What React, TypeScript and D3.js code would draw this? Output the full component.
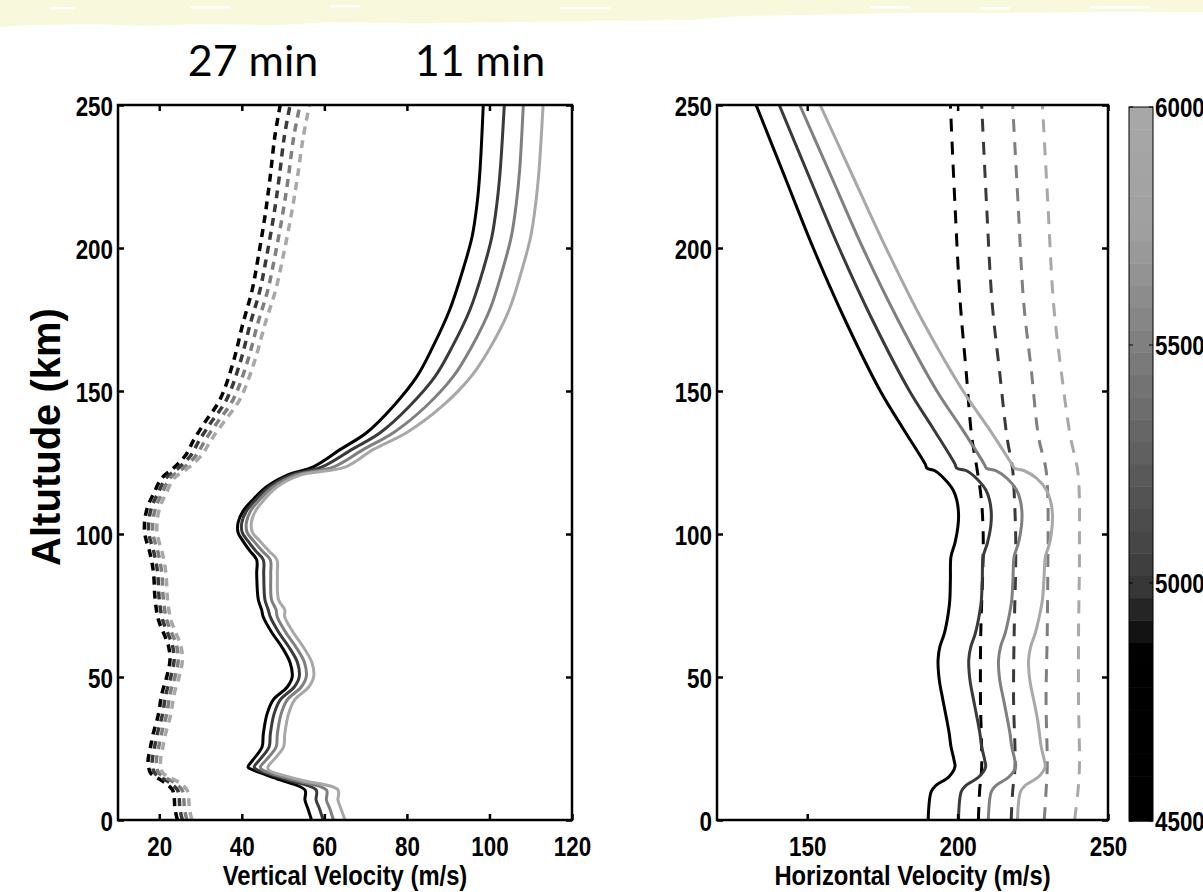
import React, { useEffect, useRef } from 'react'
import * as d3 from 'd3'

// line groups are keyed by the colorbar value
const groups = [4500, 5000, 5500, 6000]
const altTicks = [0, 50, 100, 150, 200, 250]
const vertTicks = [20, 40, 60, 80, 100, 120]
const horizTicks = [150, 200, 250]
const cbTicks = [4500, 5000, 5500, 6000]

// vertical velocity, 11 min (solid)
const altV11 = [0, 4, 7, 10.5, 14, 17.5, 18.5, 21, 25.5, 30, 37, 42, 46.5, 50, 55, 60.5, 65.5, 71, 73.5, 77, 86, 91, 94, 97.5, 100.5, 104, 108, 112, 116.5, 120.5, 123.5, 129.5, 135.5, 144.5, 155, 165.5, 178.5, 192.5, 204, 215.5, 227, 250]
const vert11_4500 = [56.9, 56.0, 55.3, 55.3, 49.3, 42.7, 41.5, 42.7, 44.9, 45.2, 46.1, 47.6, 51.0, 52.2, 51.7, 49.7, 47.3, 45.2, 44.8, 44.0, 43.6, 43.6, 42.0, 40.3, 39.1, 39.1, 40.3, 42.7, 46.0, 50.9, 57.3, 63.8, 70.3, 76.6, 82.4, 86.3, 90.4, 93.6, 95.8, 97.0, 97.7, 98.5]
const vert11_5000 = [59.7, 58.8, 58.0, 58.0, 51.0, 43.8, 43.0, 44.3, 46.6, 46.9, 47.8, 49.3, 52.7, 53.9, 53.5, 51.4, 49.0, 46.9, 46.4, 45.6, 45.3, 45.2, 43.4, 41.5, 40.1, 40.0, 41.1, 43.4, 46.7, 51.7, 59.5, 66.6, 73.6, 80.5, 86.8, 91.0, 95.3, 98.5, 100.6, 101.8, 102.6, 103.6]
const vert11_5500 = [62.2, 61.3, 60.5, 60.5, 52.6, 45.0, 44.5, 45.9, 48.3, 48.6, 49.5, 51.0, 54.4, 55.6, 55.2, 53.1, 50.7, 48.6, 48.3, 47.2, 47.0, 46.9, 45.0, 42.9, 41.3, 41.1, 42.1, 44.3, 47.6, 52.8, 62.3, 69.4, 76.8, 84.5, 91.2, 95.7, 100.1, 103.2, 105.3, 106.5, 107.3, 108.2]
const vert11_6000 = [65.0, 64.0, 63.3, 63.3, 54.3, 46.5, 46.3, 47.7, 50.1, 50.4, 51.3, 52.8, 56.2, 57.4, 57.0, 54.9, 52.5, 50.4, 50.4, 48.9, 48.6, 48.5, 46.6, 44.4, 42.6, 42.3, 43.3, 45.4, 48.6, 54.0, 65.2, 71.8, 80.0, 88.4, 95.5, 100.3, 104.8, 107.9, 110.0, 111.2, 112.0, 113.0]

// vertical velocity, 27 min (dashed)
const altV27 = [0, 4, 8, 10.5, 13, 16.4, 18.5, 21, 25, 30, 37, 44, 50, 56, 61, 65.5, 70, 77, 86.5, 93, 100, 105, 110, 114, 119.5, 123.5, 128, 132.5, 138.5, 147, 160, 173.8, 185.3, 197, 211, 224, 239, 250]
const vert27_4500 = [24.4, 23.8, 23.6, 23.2, 21.4, 17.9, 17.4, 17.3, 17.8, 18.5, 19.8, 20.6, 21.8, 22.6, 22.2, 21.0, 19.8, 19.0, 18.6, 17.8, 16.5, 16.5, 17.3, 18.6, 20.6, 23.8, 26.6, 28.2, 30.8, 34.7, 37.9, 40.3, 42.5, 44.0, 45.6, 46.8, 48.0, 49.3]
const vert27_5000 = [25.6, 25.0, 24.8, 24.4, 22.6, 18.9, 18.4, 18.3, 18.8, 19.5, 20.8, 21.6, 22.8, 23.6, 23.2, 22.0, 20.8, 20.0, 19.6, 18.8, 17.5, 17.5, 18.3, 19.6, 21.6, 25.0, 27.9, 29.6, 32.3, 36.3, 39.6, 42.1, 44.4, 46.0, 47.7, 49.0, 50.3, 51.7]
const vert27_5500 = [26.7, 26.1, 25.9, 25.5, 23.7, 19.9, 19.4, 19.3, 19.8, 20.5, 21.8, 22.6, 23.8, 24.6, 24.2, 23.0, 21.8, 21.0, 20.6, 19.8, 18.5, 18.5, 19.3, 20.6, 22.6, 26.2, 29.2, 31.0, 33.8, 37.9, 41.3, 43.9, 46.3, 48.0, 49.8, 51.2, 52.6, 54.1]
const vert27_6000 = [27.9, 27.3, 27.1, 26.7, 24.9, 20.9, 20.4, 20.3, 20.8, 21.5, 22.8, 23.6, 24.8, 25.6, 25.2, 24.0, 22.8, 22.0, 21.6, 20.8, 19.5, 19.5, 20.3, 21.6, 23.6, 27.4, 30.5, 32.4, 35.3, 39.5, 43.0, 45.7, 48.2, 50.0, 51.9, 53.4, 54.9, 56.4]

// horizontal velocity, 11 min (solid)
const altH11 = [0, 9.9, 11.9, 15.2, 18.6, 21, 25.6, 30.3, 35, 42, 49, 56, 60.6, 65.3, 72.3, 77, 84, 92.1, 96.8, 102.6, 107.3, 111.9, 115.4, 119.5, 122.2, 123, 124.5, 137, 150, 175, 200, 225, 250]
const horiz11_4500 = [190.2, 191.2, 192.6, 197.2, 199.1, 198.8, 197.8, 197.2, 196.4, 195.1, 193.9, 193.5, 194.1, 195.6, 196.9, 197.4, 197.6, 197.8, 199.1, 200.1, 200.3, 199.7, 198.5, 195.4, 192.3, 189.8, 189.2, 181.8, 174.3, 162.5, 152.0, 142.5, 133.0]
const horiz11_5000 = [200.3, 201.2, 202.6, 207.2, 209.3, 209.0, 208.0, 207.4, 206.6, 205.3, 204.1, 203.7, 204.4, 205.9, 207.3, 207.9, 208.2, 208.5, 209.9, 211.0, 211.2, 210.6, 209.4, 206.2, 202.8, 199.7, 199.1, 191.8, 184.0, 171.6, 160.6, 150.6, 140.7]
const horiz11_5500 = [210.2, 211.2, 212.6, 217.2, 219.3, 219.0, 218.0, 217.4, 216.6, 215.3, 214.0, 213.6, 214.3, 215.8, 217.3, 218.0, 218.4, 218.8, 220.2, 221.2, 221.4, 220.8, 219.6, 216.4, 212.7, 209.6, 208.8, 201.3, 193.1, 180.1, 168.5, 158.0, 147.5]
const horiz11_6000 = [219.9, 220.9, 222.3, 227.0, 229.1, 228.8, 227.8, 227.2, 226.6, 225.3, 224.0, 223.6, 224.3, 225.8, 227.4, 228.2, 228.7, 229.2, 230.6, 231.4, 231.5, 230.8, 229.5, 226.2, 222.0, 218.9, 218.0, 210.3, 201.8, 188.1, 176.2, 165.2, 154.3]

// horizontal velocity, 27 min (dashed)
const altH27 = [0, 10, 18.6, 42, 65.3, 88.6, 100, 112, 122.4, 134, 157.3, 180.5, 215.6, 250]
const horiz27_4500 = [206.9, 207.3, 208.0, 207.6, 207.7, 208.4, 208.5, 207.9, 206.5, 204.7, 202.8, 200.9, 199.1, 197.6]
const horiz27_5000 = [217.8, 218.3, 219.1, 218.6, 218.8, 219.3, 219.3, 218.9, 218.3, 216.4, 213.9, 211.5, 209.6, 208.0]
const horiz27_5500 = [228.8, 229.4, 229.8, 229.4, 229.8, 230.0, 230.1, 230.0, 229.4, 226.9, 224.5, 222.0, 220.1, 218.3]
const horiz27_6000 = [238.9, 240.0, 240.5, 240.2, 240.2, 240.5, 240.5, 240.5, 239.9, 237.5, 234.4, 231.9, 230.0, 228.2]

const W = 1203, H = 892
const tickFont = 'Liberation Sans, Arial, Helvetica, sans-serif'

// grey colormap (black at the bottom, light grey at the top)
const greyLevel = d3.scaleLinear()
  .domain([4500, 4850, 5000, 5500, 5750, 6000])
  .range([0, 0, 58, 127, 160, 168])
  .clamp(true)
const greyOf = (v: number) => {
  const g = Math.round(greyLevel(v))
  return d3.rgb(g, g, g).formatHex()
}

function drawPanel(svg: any, p: any) {
  const x = d3.scaleLinear().domain(p.xDomain).range([p.left, p.right])
  const y = d3.scaleLinear().domain([0, 250]).range([820, 105])

  const clipId = 'clip-' + p.id
  svg.append('clipPath').attr('id', clipId)
    .append('rect')
    .attr('x', p.left).attr('y', 105)
    .attr('width', p.right - p.left).attr('height', 715)

  const plot = svg.append('g').attr('clip-path', `url(#${clipId})`)

  const draw = (alts: number[], vals: number[][], dash: string | null, width: number) => {
    vals.forEach((vs, i) => {
      const pts = alts.map((a, k) => [vs[k], a] as [number, number])
      const line = d3.line<[number, number]>()
        .x(d => x(d[0]))
        .y(d => y(d[1]))
        .curve(d3.curveCatmullRom.alpha(0.5))
      plot.append('path')
        .attr('d', line(pts))
        .attr('fill', 'none')
        .attr('stroke', greyOf(groups[i]))
        .attr('stroke-width', width)
        .attr('stroke-dasharray', dash)
    })
  }
  draw(p.alt27, p.vals27, p.dash, p.dashWidth)
  draw(p.alt11, p.vals11, null, 3)

  const styleAxis = (g: any) => {
    g.select('.domain').remove()
    g.selectAll('line').attr('stroke', '#000').attr('stroke-width', 2.5)
    g.attr('font-family', tickFont).attr('font-size', 28).attr('font-weight', 'bold')
    g.selectAll('text').attr('fill', '#000')
  }

  const gb = svg.append('g').attr('transform', 'translate(0,820)')
    .call(d3.axisBottom(x).tickValues(p.xTicks).tickSizeInner(-6).tickSizeOuter(0).tickFormat(d3.format('d')))
  styleAxis(gb)
  gb.selectAll('text').attr('y', 16).attr('dy', '0.71em').attr('transform', 'scale(0.8,1)')

  const gt = svg.append('g').attr('transform', 'translate(0,105)')
    .call(d3.axisTop(x).tickValues(p.xTicks).tickSizeInner(-6).tickSizeOuter(0).tickFormat(() => ''))
  styleAxis(gt)

  const gl = svg.append('g').attr('transform', `translate(${p.left},0)`)
    .call(d3.axisLeft(y).tickValues(altTicks).tickSizeInner(-6).tickSizeOuter(0).tickFormat(d3.format('d')))
  styleAxis(gl)
  gl.selectAll('text').attr('x', -5 / 0.8).attr('dy', '0.36em').attr('transform', 'scale(0.8,1)')

  const gr = svg.append('g').attr('transform', `translate(${p.right},0)`)
    .call(d3.axisRight(y).tickValues(altTicks).tickSizeInner(-6).tickSizeOuter(0).tickFormat(() => ''))
  styleAxis(gr)

  svg.append('rect')
    .attr('x', p.left).attr('y', 105)
    .attr('width', p.right - p.left).attr('height', 715)
    .attr('fill', 'none').attr('stroke', '#000').attr('stroke-width', 2.5)

  const cx = (p.left + p.right) / 2
  svg.append('text')
    .attr('transform', `translate(${cx},885) scale(0.85,1)`)
    .attr('text-anchor', 'middle')
    .attr('font-family', tickFont).attr('font-size', 28).attr('font-weight', 'bold')
    .text(p.label)
}

function App() {
  const ref = useRef<SVGSVGElement>(null)

  useEffect(() => {
    const svg = d3.select(ref.current)
    svg.selectAll('*').remove()

    svg.append('rect').attr('width', W).attr('height', H).attr('fill', '#fff')

    // ragged yellow banner at the top of the slide
    const edge: [number, number][] = [[0, 27], [30, 25], [95, 24], [140, 26], [200, 24], [280, 25], [330, 22], [420, 23], [520, 22], [600, 21], [690, 20], [740, 16], [800, 15], [900, 13], [1000, 13], [1100, 12], [1203, 12]]
    const banner = 'M0,0 L1203,0 ' + edge.slice().reverse().map(d => `L${d[0]},${d[1]}`).join(' ') + ' Z'
    svg.append('path').attr('d', banner).attr('fill', '#f8f8dc')
    const streaks: [number, number, number][] = [[50, 7, 25], [190, 6, 40], [330, 5, 30], [560, 7, 50], [870, 6, 40], [980, 7, 30], [1090, 6, 60]]
    streaks.forEach(s => {
      svg.append('rect').attr('x', s[0]).attr('y', s[1]).attr('width', s[2]).attr('height', 2.5).attr('fill', '#fff')
    })

    svg.append('text').attr('x', 253).attr('y', 76).attr('text-anchor', 'middle')
      .attr('font-family', 'Lato, "Open Sans", sans-serif').attr('font-size', 43).text('27 min')
    svg.append('text').attr('x', 480).attr('y', 76).attr('text-anchor', 'middle')
      .attr('font-family', 'Lato, "Open Sans", sans-serif').attr('font-size', 43).text('11 min')

    drawPanel(svg, {
      id: 'vert', left: 118, right: 572, xDomain: [10, 120], xTicks: vertTicks,
      alt11: altV11, vals11: [vert11_4500, vert11_5000, vert11_5500, vert11_6000],
      alt27: altV27, vals27: [vert27_4500, vert27_5000, vert27_5500, vert27_6000],
      dash: '8,6', dashWidth: 3.5, label: 'Vertical Velocity (m/s)'
    })
    drawPanel(svg, {
      id: 'horiz', left: 717, right: 1108, xDomain: [120, 250], xTicks: horizTicks,
      alt11: altH11, vals11: [horiz11_4500, horiz11_5000, horiz11_5500, horiz11_6000],
      alt27: altH27, vals27: [horiz27_4500, horiz27_5000, horiz27_5500, horiz27_6000],
      dash: '13,10', dashWidth: 3, label: 'Horizontal Velocity (m/s)'
    })

    svg.append('text')
      .attr('transform', 'translate(46,437) rotate(-90)')
      .attr('text-anchor', 'middle').attr('dy', '0.36em')
      .attr('font-family', tickFont).attr('font-size', 40).attr('font-weight', 'bold')
      .text('Altutude (km)')

    // colorbar
    const cb = d3.scaleLinear().domain([4500, 6000]).range([821, 107])
    const nBands = 32
    const step = 1500 / nBands
    d3.range(nBands).forEach(i => {
      const v0 = 4500 + i * step
      svg.append('rect')
        .attr('x', 1129).attr('width', 24)
        .attr('y', cb(v0 + step)).attr('height', cb(v0) - cb(v0 + step) + 0.5)
        .attr('fill', greyOf(v0 + step / 2))
    })
    svg.append('rect').attr('x', 1129).attr('y', 107).attr('width', 24).attr('height', 714)
      .attr('fill', 'none').attr('stroke', '#000').attr('stroke-width', 1)
    cbTicks.forEach(t => {
      svg.append('line').attr('x1', 1129).attr('x2', 1133).attr('y1', cb(t)).attr('y2', cb(t)).attr('stroke', '#000')
      svg.append('line').attr('x1', 1149).attr('x2', 1153).attr('y1', cb(t)).attr('y2', cb(t)).attr('stroke', '#000')
      svg.append('text')
        .attr('transform', `translate(1155,${cb(t)}) scale(0.8,1)`)
        .attr('dy', '0.36em')
        .attr('font-family', tickFont).attr('font-size', 28).attr('font-weight', 'bold')
        .text(t)
    })
  }, [])

  return (
    <svg ref={ref} width={W} height={H}
      style={{ position: 'absolute', left: 0, top: 0, display: 'block' }} />
  )
}

export default App
